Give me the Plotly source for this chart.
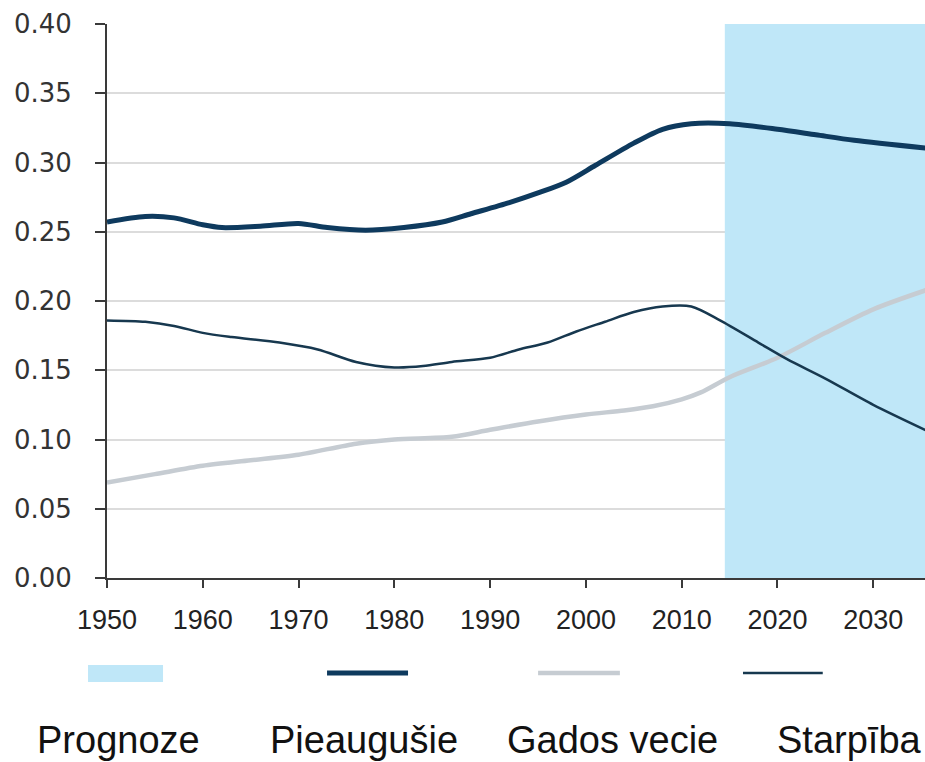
import plotly.graph_objects as go

# ---- data ----
years_adult = [1950, 1954, 1957, 1960, 1962, 1966, 1970, 1973, 1977, 1981, 1985, 1988, 1992,
               1995, 1998, 2001, 2005, 2008, 2011, 2015, 2020, 2024, 2028, 2036]
pieaugusie = [0.257, 0.261, 0.260, 0.255, 0.253, 0.254, 0.256, 0.253, 0.251, 0.253, 0.257, 0.263,
              0.271, 0.278, 0.286, 0.298, 0.314, 0.324, 0.328, 0.328, 0.324, 0.320, 0.316, 0.310]

years_old = [1950, 1955, 1960, 1965, 1970, 1976, 1980, 1986, 1990, 1995, 2000, 2004, 2007, 2010,
             2012, 2015, 2020, 2025, 2030, 2036]
gados_vecie = [0.069, 0.075, 0.081, 0.085, 0.089, 0.097, 0.100, 0.102, 0.107, 0.113, 0.118, 0.121,
               0.124, 0.129, 0.134, 0.145, 0.159, 0.177, 0.194, 0.209]

years_diff = [1950, 1954, 1957, 1960, 1963, 1968, 1972, 1976, 1980, 1983, 1986, 1990, 1993, 1996,
              1999, 2002, 2005, 2008, 2011, 2014, 2018, 2021, 2025, 2030, 2036]
starpiba = [0.186, 0.185, 0.182, 0.177, 0.174, 0.170, 0.165, 0.156, 0.152, 0.153, 0.156, 0.159,
            0.165, 0.170, 0.178, 0.185, 0.192, 0.196, 0.196, 0.186, 0.170, 0.158, 0.144, 0.125, 0.105]

forecast_start = 2014.5
x_end = 2035.4
x_ticks = [1950, 1960, 1970, 1980, 1990, 2000, 2010, 2020, 2030]
y_ticks = [0.00, 0.05, 0.10, 0.15, 0.20, 0.25, 0.30, 0.35, 0.40]
legend_labels = ["Prognoze", "Pieaugušie", "Gados vecie", "Starpība"]

C_SHADE = "#bfe7f8"
C_ADULT = "#0e3a5e"
C_OLD = "#c6ccd2"
C_DIFF = "#17384f"

fig = go.Figure()
fig.add_trace(go.Scatter(x=years_old, y=gados_vecie, mode="lines", name=legend_labels[2],
                         line=dict(color=C_OLD, width=4.5, shape="spline", smoothing=0.8)))
fig.add_trace(go.Scatter(x=years_diff, y=starpiba, mode="lines", name=legend_labels[3],
                         line=dict(color=C_DIFF, width=2.5, shape="spline", smoothing=0.8)))
fig.add_trace(go.Scatter(x=years_adult, y=pieaugusie, mode="lines", name=legend_labels[1],
                         line=dict(color=C_ADULT, width=5, shape="spline", smoothing=0.8)))

# forecast shading
fig.add_shape(type="rect", xref="x", yref="y", x0=forecast_start, x1=x_end + 1, y0=0, y1=0.40,
              fillcolor=C_SHADE, line=dict(width=0), layer="between")

# manual legend (symbols above labels)
fig.add_shape(type="rect", xref="paper", yref="paper", x0=-0.0232, x1=0.0685, y0=-0.1877, y1=-0.157,
              fillcolor=C_SHADE, line=dict(width=0))
fig.add_shape(type="line", xref="paper", yref="paper", x0=0.269, x1=0.368, y0=-0.1715, y1=-0.1715,
              line=dict(color=C_ADULT, width=5))
fig.add_shape(type="line", xref="paper", yref="paper", x0=0.527, x1=0.627, y0=-0.1715, y1=-0.1715,
              line=dict(color=C_OLD, width=4.5))
fig.add_shape(type="line", xref="paper", yref="paper", x0=0.7775, x1=0.875, y0=-0.1715, y1=-0.1715,
              line=dict(color=C_DIFF, width=2.5))

label_x = [-0.088, 0.197, 0.4866, 0.8166]
for lx, lab in zip(label_x, legend_labels):
    fig.add_annotation(text=lab, xref="paper", yref="paper", x=lx, y=-0.293, xanchor="left",
                       yanchor="middle", showarrow=False,
                       font=dict(family="Liberation Sans, Arial, sans-serif", size=38, color="#111111"))

fig.update_layout(
    width=925, height=762,
    margin=dict(l=107, r=0, t=24, b=184),
    paper_bgcolor="white", plot_bgcolor="white",
    showlegend=False,
    xaxis=dict(range=[1950, x_end], tickvals=x_ticks, ticktext=[str(v) for v in x_ticks],
               showgrid=False, zeroline=False, showline=True, linecolor="#3a3a3a", linewidth=2,
               ticks="outside", ticklen=8, tickwidth=2, tickcolor="#3a3a3a", ticklabelstandoff=9,
               tickfont=dict(family="Liberation Sans, Arial, sans-serif", size=27, color="#222222")),
    yaxis=dict(range=[0, 0.40], tickvals=y_ticks, ticktext=[f"{v:.2f}" for v in y_ticks],
               showgrid=True, gridcolor="#dcdcdc", gridwidth=1.5, zeroline=False,
               showline=True, linecolor="#3a3a3a", linewidth=2,
               ticks="outside", ticklen=10, tickwidth=2, tickcolor="#3a3a3a", ticklabelstandoff=18,
               tickfont=dict(family="DejaVu Sans, sans-serif", size=26, color="#333333")),
)

fig.write_html("out.html", config={"displayModeBar": False},
               post_script="document.body.style.margin='0px';")
